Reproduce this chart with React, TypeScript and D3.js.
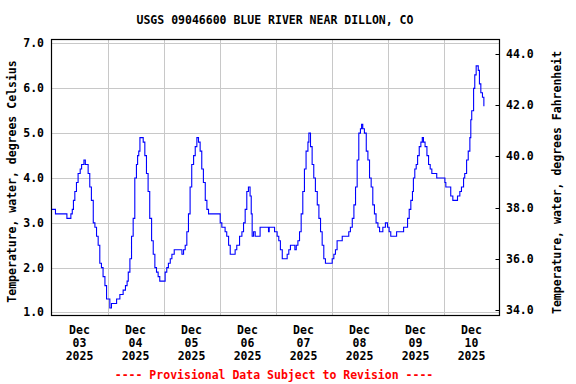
import React, { useRef, useEffect } from 'react';
import * as d3 from 'd3';

// hours after Dec 03 2025 00:00, water temperature in deg C
const hours = [
  0, 1.4, 1.7, 6.4, 6.6, 7.9, 8.3, 8.9, 9.4, 10, 10.7, 11.4, 12.3, 12.9, 13.9, 14.5, 15.1, 15.7, 16.4, 17.1,
  17.9, 18.6, 19.3, 20, 20.7, 21.4, 22.1, 22.9, 23.6, 24.3, 25, 25.7, 27.1, 27.9, 29.3, 30.7, 31.7, 32.4, 32.9, 33.6,
  34.3, 35, 35.7, 36.4, 36.9, 37.4, 37.9, 38.6, 39.3, 40, 40.7, 41.4, 42.1, 42.9, 43.6, 44.3, 45, 45.7, 46.4, 48,
  48.7, 49.4, 50.1, 50.9, 51.6, 52.6, 55.1, 55.9, 56.6, 57.3, 58, 58.7, 59.4, 60.1, 60.9, 61.6, 62.3, 63, 63.7, 64.4,
  65.1, 65.9, 66.6, 67.3, 71.6, 72.3, 73, 73.7, 74.4, 75.1, 75.9, 76.6, 78.3, 78.7, 79.4, 80.6, 81.6, 82.3, 83, 83.7,
  84.4, 85.1, 85.6, 86, 86.6, 87.3, 88.7, 89.4, 92.6, 93, 93.3, 95.3, 95.6, 96, 96.7, 97.4, 98.1, 98.9, 100.3, 101,
  101.7, 102.4, 103.9, 104.3, 104.9, 105.6, 106.3, 107, 107.7, 108.4, 109.1, 109.9, 110.3, 111, 111.7, 112.4, 113.1, 113.9, 114.6, 115.3,
  116, 116.7, 117.4, 119.6, 120.3, 121, 121.7, 122.4, 123.9, 124.6, 126.7, 127.4, 128.1, 128.9, 129.6, 130.3, 131, 131.7, 132.4, 132.9,
  133.4, 134.1, 134.9, 135.6, 136.3, 137, 137.7, 138.4, 139.1, 139.9, 140.6, 141.3, 142, 143.1, 144, 144.7, 145.4, 147.1, 147.9, 150.4,
  150.9, 151.9, 152.6, 153.3, 154, 154.7, 155.1, 155.7, 156.3, 156.9, 157.6, 158.3, 158.9, 159.4, 160.1, 160.9, 161.6, 162.3, 163, 164.7,
  165.1, 168, 168.6, 169, 170.4, 171.1, 172, 173.4, 174, 175, 175.7, 176.6, 177.1, 177.9, 178.6, 179.3, 179.7, 180.1, 180.9, 181.4,
  182, 182.9, 183.4, 184, 184.7, 185.3,
];
const tempC = [
  3.3, 3.3, 3.2, 3.2, 3.1, 3.1, 3.2, 3.3, 3.5, 3.7, 3.9, 4.1, 4.2, 4.3, 4.4, 4.3, 4.3, 4.1, 3.8, 3.5,
  3.0, 2.9, 2.7, 2.5, 2.1, 2.0, 1.8, 1.6, 1.3, 1.3, 1.1, 1.2, 1.2, 1.3, 1.4, 1.5, 1.6, 1.7, 1.9, 2.2,
  2.7, 3.1, 4.0, 4.3, 4.5, 4.6, 4.9, 4.9, 4.8, 4.5, 4.1, 3.7, 3.1, 2.6, 2.3, 2.0, 1.9, 1.8, 1.7, 1.7,
  1.9, 2.0, 2.1, 2.2, 2.3, 2.4, 2.4, 2.3, 2.4, 2.5, 2.8, 3.2, 3.8, 4.3, 4.5, 4.7, 4.9, 4.8, 4.6, 4.2,
  3.9, 3.5, 3.3, 3.2, 3.2, 3.0, 2.9, 2.9, 2.8, 2.7, 2.5, 2.3, 2.3, 2.4, 2.5, 2.7, 2.8, 3.0, 3.3, 3.7,
  3.8, 3.6, 3.2, 2.7, 2.8, 2.7, 2.7, 2.9, 2.9, 2.8, 2.9, 2.9, 2.8, 2.8, 2.7, 2.6, 2.4, 2.2, 2.2, 2.3,
  2.4, 2.5, 2.5, 2.4, 2.5, 2.6, 2.8, 3.2, 3.7, 4.2, 4.6, 4.8, 5.0, 4.7, 4.3, 4.0, 3.7, 3.4, 3.1, 2.8,
  2.5, 2.2, 2.1, 2.1, 2.2, 2.3, 2.4, 2.6, 2.6, 2.7, 2.7, 2.8, 2.9, 3.1, 3.4, 3.8, 4.4, 5.0, 5.1, 5.2,
  5.1, 5.0, 4.6, 4.4, 4.0, 3.8, 3.4, 3.2, 3.0, 2.9, 2.8, 2.8, 2.9, 3.0, 2.9, 2.8, 2.7, 2.7, 2.8, 2.8,
  2.9, 2.9, 3.1, 3.3, 3.5, 3.7, 4.0, 4.2, 4.3, 4.5, 4.7, 4.8, 4.9, 4.8, 4.7, 4.5, 4.3, 4.2, 4.1, 4.1,
  4.0, 4.0, 3.9, 3.8, 3.8, 3.6, 3.5, 3.5, 3.6, 3.7, 3.8, 4.0, 4.1, 4.4, 4.6, 4.9, 5.3, 5.5, 6.0, 6.3,
  6.5, 6.4, 6.1, 5.9, 5.8, 5.6,
];

const celsiusTicks = [1, 2, 3, 4, 5, 6, 7];
const fahrenheitTicks = [34, 36, 38, 40, 42, 44];
const dayTicks = [3, 4, 5, 6, 7, 8, 9, 10];

const title = 'USGS 09046600 BLUE RIVER NEAR DILLON, CO';
const leftLabel = 'Temperature, water, degrees Celsius';
const rightLabel = 'Temperature, water, degrees Fahrenheit';
const footer = '---- Provisional Data Subject to Revision ----';

const width = 576;
const height = 384;
const font = '"DejaVu Sans Mono", monospace';

function App() {
  const ref = useRef<SVGSVGElement>(null);

  useEffect(() => {
    const svg = d3.select(ref.current);
    svg.selectAll('*').remove();

    const left = 51.5, right = 499.5, top = 39.5, bottom = 315.5;
    const start = new Date(2025, 11, 3);
    const end = new Date(2025, 11, 11);

    const x = d3.scaleTime().domain([start, end]).range([left, right]);
    const y = d3.scaleLinear().domain([0.933, 7.089]).range([bottom, top]);
    const yF = d3.scaleLinear().domain([33.805, 44.553]).range([bottom, top]);

    const data = hours.map((h, i) => ({ t: new Date(start.getTime() + h * 3600000), v: tempC[i] }));

    // grid
    svg.append('g')
      .selectAll('line')
      .data(celsiusTicks)
      .enter()
      .append('line')
      .attr('x1', left).attr('x2', right)
      .attr('y1', d => Math.round(y(d)) + 0.5).attr('y2', d => Math.round(y(d)) + 0.5)
      .attr('stroke', '#c8c8c8');

    svg.append('g')
      .selectAll('line')
      .data(dayTicks.slice(1))
      .enter()
      .append('line')
      .attr('x1', d => Math.round(x(new Date(2025, 11, d))) + 0.5)
      .attr('x2', d => Math.round(x(new Date(2025, 11, d))) + 0.5)
      .attr('y1', top).attr('y2', bottom)
      .attr('stroke', '#c8c8c8');

    // series
    const line = d3.line<{ t: Date; v: number }>()
      .x(d => x(d.t))
      .y(d => y(d.v))
      .curve(d3.curveStepAfter);

    svg.append('path')
      .datum(data)
      .attr('d', line)
      .attr('fill', 'none')
      .attr('stroke', '#0000ff')
      .attr('stroke-width', 1.1);

    // frame
    svg.append('rect')
      .attr('x', left).attr('y', top)
      .attr('width', right - left).attr('height', bottom - top)
      .attr('fill', 'none')
      .attr('stroke', '#000')
      .attr('stroke-width', 1.2);

    // left tick labels
    svg.append('g')
      .selectAll('text')
      .data(celsiusTicks)
      .enter()
      .append('text')
      .attr('x', 44)
      .attr('y', d => y(d) + 4)
      .attr('text-anchor', 'end')
      .text(d => d3.format('.1f')(d));

    // right ticks and labels
    svg.append('g')
      .selectAll('line')
      .data(fahrenheitTicks)
      .enter()
      .append('line')
      .attr('x1', right - 4).attr('x2', right)
      .attr('y1', d => Math.round(yF(d)) + 0.5).attr('y2', d => Math.round(yF(d)) + 0.5)
      .attr('stroke', '#000');

    svg.append('g')
      .selectAll('text')
      .data(fahrenheitTicks)
      .enter()
      .append('text')
      .attr('x', 506)
      .attr('y', d => yF(d) + 4)
      .text(d => d3.format('.1f')(d));

    // x labels, centred on noon
    const fmts = ['%b', '%d', '%Y'];
    const xl = svg.append('g')
      .selectAll('g')
      .data(dayTicks)
      .enter()
      .append('g')
      .attr('transform', d => `translate(${x(new Date(2025, 11, d, 12))},0)`);
    fmts.forEach((f, i) => {
      xl.append('text')
        .attr('y', 334 + i * 13)
        .attr('text-anchor', 'middle')
        .text(d => d3.timeFormat(f)(new Date(2025, 11, d)));
    });

    svg.append('text')
      .attr('x', (left + right) / 2 - 0.5)
      .attr('y', 24)
      .attr('text-anchor', 'middle')
      .text(title);

    svg.append('text')
      .attr('transform', `translate(16,${(top + bottom) / 2 + 4}) rotate(-90)`)
      .attr('text-anchor', 'middle')
      .text(leftLabel);

    svg.append('text')
      .attr('transform', `translate(561,${(top + bottom) / 2 + 5}) rotate(-90)`)
      .attr('text-anchor', 'middle')
      .text(rightLabel);

    svg.append('text')
      .attr('x', 274)
      .attr('y', 379)
      .attr('text-anchor', 'middle')
      .attr('fill', '#ff0000')
      .text(footer);

    svg.selectAll('text')
      .style('font-family', font)
      .style('font-size', '11.5px')
      .style('font-weight', 'bold');
  }, []);

  return (
    <svg ref={ref} width={width} height={height}
      style={{ position: 'absolute', left: 0, top: 0, background: '#fff' }}></svg>
  );
}

export default App;
